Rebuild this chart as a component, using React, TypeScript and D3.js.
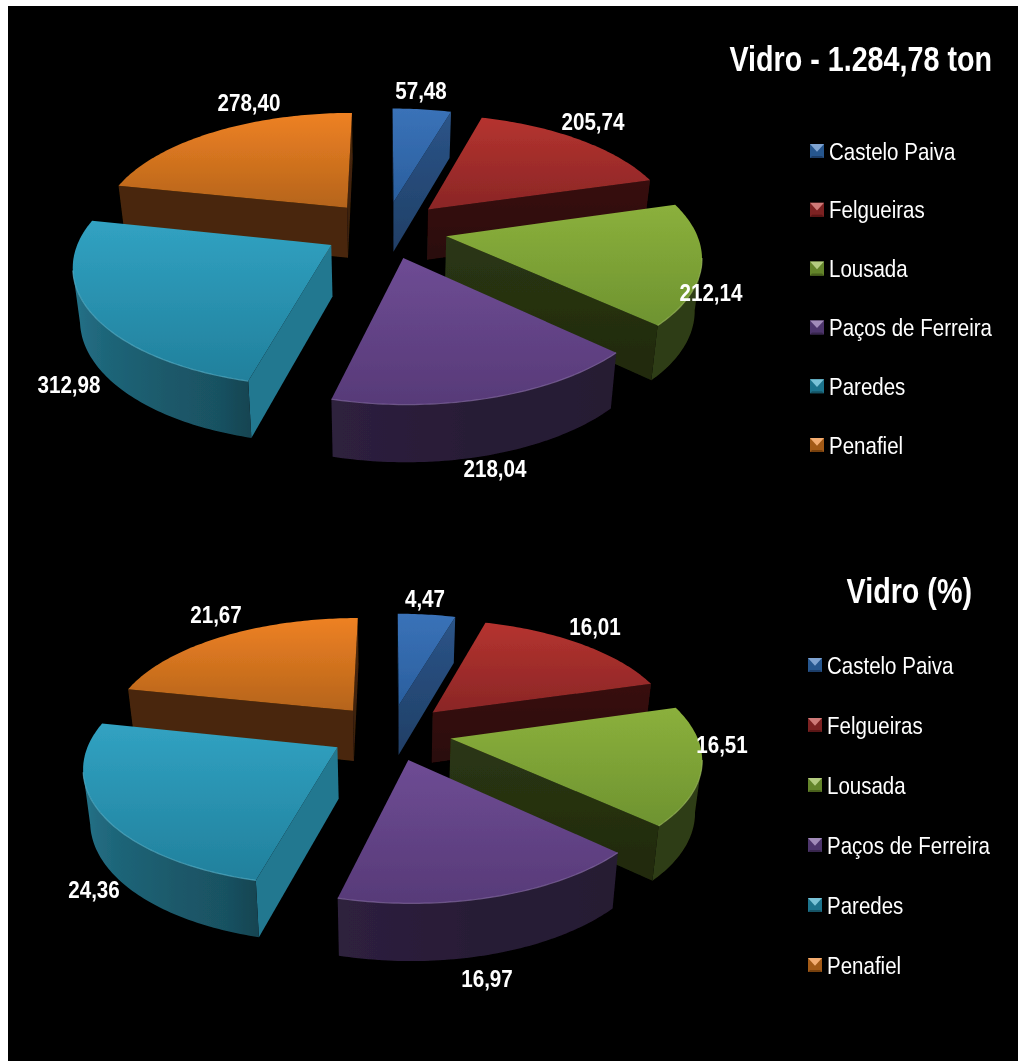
import React from "react";
import * as d3 from "d3";

const categories = ["Castelo Paiva", "Felgueiras", "Lousada", "Paços de Ferreira", "Paredes", "Penafiel"];
const tons = [57.48, 205.74, 212.14, 218.04, 312.98, 278.4];
const percent = [4.47, 16.01, 16.51, 16.97, 24.36, 21.67];
const tonLabels = ["57,48", "205,74", "212,14", "218,04", "312,98", "278,40"];
const percentLabels = ["4,47", "16,01", "16,51", "16,97", "24,36", "21,67"];

const topLight = ["#3a72b8", "#b5332f", "#8bb03c", "#6e4c94", "#31a2c2", "#ee8124"];
const topDark = ["#2a5f9e", "#8a2626", "#6e9330", "#573a78", "#21809c", "#b5641a"];
const paintOrder = [0, 5, 1, 2, 4, 3];

const tonLabelPos: [number, number][] = [[421, 90], [593, 121], [711, 292], [495, 468], [69, 384], [249, 102]];
const pctLabelPos: [number, number][] = [[425, 598], [595, 626], [722, 744], [487, 978], [94, 889], [216, 614]];

type Cfg = { key: string; values: number[]; labels: string[]; labelPos: [number, number][]; cx: number; cy: number; A: number; B: number; title: string; titleX: number; titleY: number; legX: number; legY0: number; legY1: number };

const charts: Cfg[] = [
  { key: "a", values: tons, labels: tonLabels, labelPos: tonLabelPos, cx: 385.2, cy: 229.4, A: 249, B: 115, title: "Vidro - 1.284,78 ton", titleX: 992, titleY: 71, legX: 810, legY0: 151, legY1: 445 },
  { key: "b", values: percent, labels: percentLabels, labelPos: pctLabelPos, cx: 390.5, cy: 732, A: 245, B: 112.5, title: "Vidro (%)", titleX: 972, titleY: 603, legX: 808, legY0: 665, legY1: 965 },
];

const K = 0.15;
const EXPLODE = 0.25;
const H = 51;
const BOTTOM_SHRINK = 0.977;

// shading of the curved wall, by the angle round the pie
const arcShade = d3.scaleLinear<number>().domain([130, 165, 194, 200, 240, 285]).range([0.34, 0.36, 0.42, 0.5, 0.66, 0.82]).clamp(true);
const line = d3.line<[number, number]>();

function Condensed({ x, y, anchor, size, weight, children, sx }: any) {
  return (
    <text transform={`translate(${x},${y}) scale(${sx},1)`} textAnchor={anchor} fontSize={size} fontWeight={weight}
      fontFamily="'Liberation Sans', Arial, sans-serif" fill="#fff">{children}</text>
  );
}

function Pie3D({ c }: { c: Cfg }) {
  const arcs = d3.pie<number>().sort(null).startAngle(0).endAngle(2 * Math.PI)(c.values);
  const project = (u: number, v: number, drop = 0): [number, number] => {
    const s = 1 / (1 + K * v);
    const shrink = drop ? BOTTOM_SHRINK : 1;
    return [c.cx + c.A * u * s * shrink, c.cy - c.B * v * s + drop * Math.pow(s, 0.6)];
  };
  const defs: React.ReactNode[] = [];
  const shapes = paintOrder.map((i) => {
    const a = arcs[i];
    const mid = (a.startAngle + a.endAngle) / 2;
    const ou = EXPLODE * Math.sin(mid), ov = EXPLODE * Math.cos(mid);
    const pt = (t: number, drop = 0) => project(ou + Math.sin(t), ov + Math.cos(t), drop);
    const apex = (drop = 0) => project(ou, ov, drop);
    const fineN = Math.ceil((a.endAngle - a.startAngle) / (Math.PI / 180));
    const fine = d3.range(fineN + 1).map((j) => a.startAngle + ((a.endAngle - a.startAngle) * j) / fineN);
    const topPts: [number, number][] = [apex(), ...fine.map((t) => pt(t))];
    const ys = topPts.map((p) => p[1]);
    const gid = `g-${c.key}-${i}`;
    const wid = `w-${c.key}-${i}`;
    const aid = `a-${c.key}-${i}`;
    defs.push(
      <linearGradient key={gid} id={gid} gradientUnits="userSpaceOnUse" x1={0} x2={0} y1={d3.min(ys)!} y2={d3.max(ys)!}>
        <stop offset="0" stopColor={topLight[i]} />
        <stop offset="1" stopColor={topDark[i]} />
      </linearGradient>
    );
    const tint = (k: number) => d3.interpolateRgb("#000", topLight[i])(k);
    const radialShade = (normalDeg: number) => (normalDeg < 130 ? 0.74 : 0.31);
    const walls: React.ReactNode[] = [];
    const quad = (p: [number, number], q: [number, number], pb: [number, number], qb: [number, number], fill: string, key: string) => (
      <path key={key} d={line([p, q, qb, pb])! + "Z"} fill={fill} />
    );
    // faces are walked clockwise on screen: a wall faces the viewer when it runs leftwards
    if (pt(a.startAngle)[0] < apex()[0]) {
      const n = (a.startAngle * 180) / Math.PI - 90;
      walls.push(quad(apex(), pt(a.startAngle), apex(H), pt(a.startAngle, H), tint(radialShade(n < 0 ? n + 360 : n)), "s"));
    }
    const nearArc = fine.filter((t) => pt(t + 0.02)[0] < pt(t)[0]);
    if (nearArc.length > 1) {
      const topEdge = nearArc.map((t) => pt(t));
      const bottomEdge = nearArc.map((t) => pt(t, H)).reverse();
      const xs = [...topEdge, ...bottomEdge].map((p) => p[0]);
      const x0 = d3.min(xs)!, x1 = d3.max(xs)!;
      const stops = d3.range(0, nearArc.length, 6).map((j) => nearArc[j]);
      defs.push(
        <linearGradient key={aid} id={aid} gradientUnits="userSpaceOnUse" x1={x0} x2={x1} y1={0} y2={0}>
          {[...stops].reverse().map((t) => (
            <stop key={t} offset={(pt(t)[0] - x0) / (x1 - x0)} stopColor={tint(arcShade((t * 180) / Math.PI))} />
          ))}
        </linearGradient>
      );
      walls.push(<path key="arc" d={line([...topEdge, ...bottomEdge])! + "Z"} fill={`url(#${aid})`} />);
    }
    if (apex()[0] < pt(a.endAngle)[0]) {
      const col = tint(radialShade((a.endAngle * 180) / Math.PI + 90));
      const ptsY = [apex()[1], pt(a.endAngle)[1], apex(H)[1], pt(a.endAngle, H)[1]];
      defs.push(
        <linearGradient key={wid} id={wid} gradientUnits="userSpaceOnUse" x1={0} x2={0} y1={d3.min(ptsY)!} y2={d3.max(ptsY)!}>
          <stop offset="0" stopColor={col} />
          <stop offset="1" stopColor={d3.interpolateRgb(col, "#000")(0.25)} />
        </linearGradient>
      );
      walls.push(quad(pt(a.endAngle), apex(), pt(a.endAngle, H), apex(H), `url(#${wid})`, "e"));
    }
    return (
      <g key={i}>
        {walls}
        <path d={line(topPts)! + "Z"} fill={`url(#${gid})`} />
        {nearArc.length > 1 && (
          <path d={line(nearArc.map((t) => pt(t)))!} fill="none" stroke={d3.interpolateRgb(topLight[i], "#fff")(0.2)} strokeOpacity={0.65} strokeWidth={1.2} />
        )}
      </g>
    );
  });

  const legendY = d3.scalePoint<string>().domain(categories).range([c.legY0, c.legY1]);
  return (
    <g>
      <defs>{defs}</defs>
      {shapes}
      {c.labels.map((t, i) => (
        <Condensed key={t} x={c.labelPos[i][0]} y={c.labelPos[i][1] + 8.5} anchor="middle" size={24} weight="bold" sx={0.86}>{t}</Condensed>
      ))}
      <Condensed x={c.titleX} y={c.titleY} anchor="end" size={35} weight="bold" sx={0.82}>{c.title}</Condensed>
      {categories.map((name, i) => {
        const y = legendY(name)!;
        const x = c.legX;
        const sz = 14;
        const top = y - sz / 2;
        return (
          <g key={name}>
            <rect x={x} y={top} width={sz} height={sz} fill={d3.interpolateRgb(topDark[i], "#000")(0.1)} />
            <path d={line([[x, top], [x + sz, top], [x + sz / 2, top + sz * 0.55]])! + "Z"} fill={d3.interpolateRgb(topLight[i], "#fff")(0.35)} />
            <path d={line([[x, top + sz], [x + sz, top + sz], [x + sz - 2, top + sz - 2], [x + 2, top + sz - 2]])! + "Z"} fill={d3.interpolateRgb(topDark[i], "#000")(0.35)} />
            <Condensed x={x + 19} y={y + 8.5} anchor="start" size={24} weight="normal" sx={0.855}>{name}</Condensed>
          </g>
        );
      })}
    </g>
  );
}

export default function App() {
  return (
    <svg width={1018} height={1061} viewBox="0 0 1018 1061"
      style={{ position: "absolute", left: 0, top: 0, display: "block", background: "#fff" }}>
      <defs>
        <filter id="soft" x="0" y="0" width="100%" height="100%">
          <feGaussianBlur stdDeviation="0.35" />
        </filter>
      </defs>
      <rect x={8} y={6} width={1010} height={1055} fill="#000" />
      <g filter="url(#soft)">
        {charts.map((c) => <Pie3D key={c.key} c={c} />)}
      </g>
    </svg>
  );
}
